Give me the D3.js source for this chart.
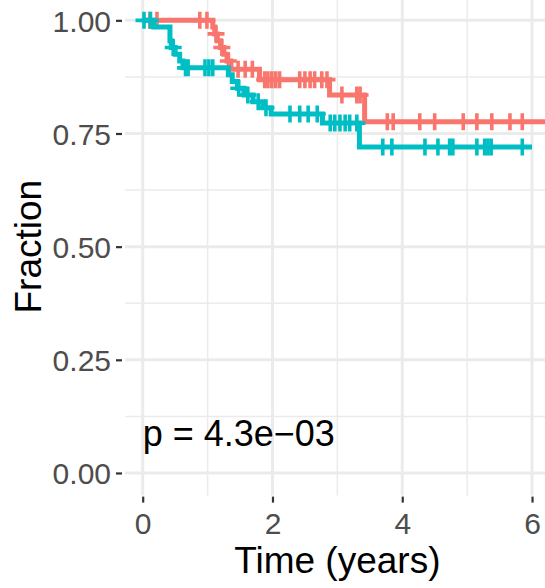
<!DOCTYPE html>
<html><head><meta charset="utf-8">
<script src="https://cdn.jsdelivr.net/npm/d3@7"></script>
<style>body{margin:0;background:#fff}svg{display:block}text{font-family:"Liberation Sans",Arial,sans-serif}</style>
</head><body><svg id="c" width="545" height="588"></svg>
<script>
// ---- data ----
const groups = ["A", "B"];
const colors = ["#F8766D", "#00BFC4"];
// group A (red)
const redEventTimes = [1.08, 1.11, 1.15, 1.20, 1.25, 1.30, 1.36, 1.80, 2.88, 3.42];
const redSurv       = [0.985, 0.970, 0.955, 0.940, 0.925, 0.910, 0.892, 0.869, 0.835, 0.776];
const redCensor     = [0.11, 0.22, 0.88, 0.99, 1.13, 1.22, 1.32, 1.47, 1.58, 1.69, 1.88, 1.93, 1.99, 2.05, 2.11,
                       2.42, 2.50, 2.58, 2.65, 2.76, 2.84, 3.07, 3.30, 3.35, 3.77, 3.86, 4.27, 4.50, 4.94,
                       5.15, 5.38, 5.66, 5.85];
const redEnd = 6.25;
// group B (teal)
const tealEventTimes = [0.17, 0.42, 0.44, 0.50, 0.57, 0.62, 1.32, 1.38, 1.46, 1.56, 1.70, 1.85, 1.98, 2.77, 3.34];
const tealSurv       = [0.985, 0.955, 0.940, 0.925, 0.910, 0.895, 0.880, 0.865, 0.850, 0.835, 0.820, 0.807, 0.793, 0.773, 0.720];
const tealCensor     = [0.02, 0.12, 0.47, 0.66, 0.70, 0.96, 1.02, 1.08, 1.48, 1.62, 1.78, 1.90, 2.27, 2.42, 2.55,
                        2.69, 2.89, 2.96, 3.04, 3.12, 3.19, 3.30, 3.70, 3.84, 4.35, 4.55, 4.73, 4.78, 5.15,
                        5.27, 5.32, 5.37, 5.85];
const tealEnd = 6.0;
const xTicks = [0, 2, 4, 6];
const yTicks = [0, 0.25, 0.5, 0.75, 1];
const pLabel = "p = 4.3e\u221203";

const series = [
  {ev: redEventTimes, s: redSurv, c: redCensor, end: redEnd},
  {ev: tealEventTimes, s: tealSurv, c: tealCensor, end: tealEnd}
];

// ---- layout ----
const svg = d3.select("#c");
const L = 125, R = 545, T = -2.3, B = 495.6;
const x = d3.scaleLinear().domain([-0.2727, 6.2]).range([L, R]);
const y = d3.scaleLinear().domain([-0.05, 1.05]).range([B, T]);

const g = svg.append("g");
// gridlines
const minorX = [1, 3, 5], minorY = [0.125, 0.375, 0.625, 0.875];
g.selectAll(".mx").data(minorX).join("line").attr("x1", d => x(d)).attr("x2", d => x(d))
  .attr("y1", T).attr("y2", B).attr("stroke", "#EBEBEB").attr("stroke-width", 1.5);
g.selectAll(".my").data(minorY).join("line").attr("y1", d => y(d)).attr("y2", d => y(d))
  .attr("x1", L).attr("x2", R).attr("stroke", "#EBEBEB").attr("stroke-width", 1.5);
g.selectAll(".Mx").data(xTicks).join("line").attr("x1", d => x(d)).attr("x2", d => x(d))
  .attr("y1", T).attr("y2", B).attr("stroke", "#EBEBEB").attr("stroke-width", 3);
g.selectAll(".My").data(yTicks).join("line").attr("y1", d => y(d)).attr("y2", d => y(d))
  .attr("x1", L).attr("x2", R).attr("stroke", "#EBEBEB").attr("stroke-width", 3);

// axes
const xAxis = d3.axisBottom(x).tickValues(xTicks).tickFormat(d3.format("d")).tickSize(6).tickPadding(4);
const yAxis = d3.axisLeft(y).tickValues(yTicks).tickFormat(d3.format(".2f")).tickSize(6).tickPadding(5);
const gx = svg.append("g").attr("transform", `translate(0,${B + 1})`).call(xAxis);
const gy = svg.append("g").attr("transform", `translate(${L - 3},0)`).call(yAxis);
[gx, gy].forEach(a => {
  a.select(".domain").remove();
  a.selectAll(".tick line").attr("stroke", "#333333").attr("stroke-width", 2.2);
  a.selectAll(".tick text").attr("fill", "#4D4D4D").style("font-size", "30px");
});
gx.selectAll(".tick text").attr("dy", "0.93em");
gy.selectAll(".tick text").attr("dy", "0.36em");

// curves
const clip = svg.append("clipPath").attr("id", "pc").append("rect")
  .attr("x", L).attr("y", T).attr("width", R - L).attr("height", B - T);
const plot = svg.append("g").attr("clip-path", "url(#pc)");
function survAt(sr, t) {
  let v = 1;
  for (let i = 0; i < sr.ev.length; i++) if (sr.ev[i] <= t) v = sr.s[i];
  return v;
}
const line = d3.line().x(d => x(d[0])).y(d => y(d[1])).curve(d3.curveStepAfter);
series.forEach((sr, k) => {
  const pts = [[0, 1]].concat(sr.ev.map((t, i) => [t, sr.s[i]]));
  pts.push([sr.end, sr.s[sr.s.length - 1]]);
  plot.append("path").datum(pts).attr("d", line).attr("fill", "none")
    .attr("stroke", colors[k]).attr("stroke-width", 5);
  const h = 8.5;
  plot.selectAll(null).data(sr.c).join("path")
    .attr("d", t => {
      const cx = x(t), cy = y(survAt(sr, t));
      return `M${cx - h},${cy}H${cx + h}M${cx},${cy - h}V${cy + h}`;
    })
    .attr("stroke", colors[k]).attr("stroke-width", 3.6).attr("fill", "none");
});

// p-value
svg.append("text").attr("x", x(0)).attr("y", 446).text(pLabel)
  .attr("fill", "#000").style("font-size", "36px");

// axis titles
svg.append("text").attr("x", x(3)).attr("y", 573).attr("text-anchor", "middle")
  .style("font-size", "37px").attr("fill", "#000").text("Time (years)");
svg.append("text").attr("transform", `translate(41,${y(0.5)}) rotate(-90)`).attr("text-anchor", "middle")
  .style("font-size", "37px").attr("fill", "#000").text("Fraction");
</script></body></html>
